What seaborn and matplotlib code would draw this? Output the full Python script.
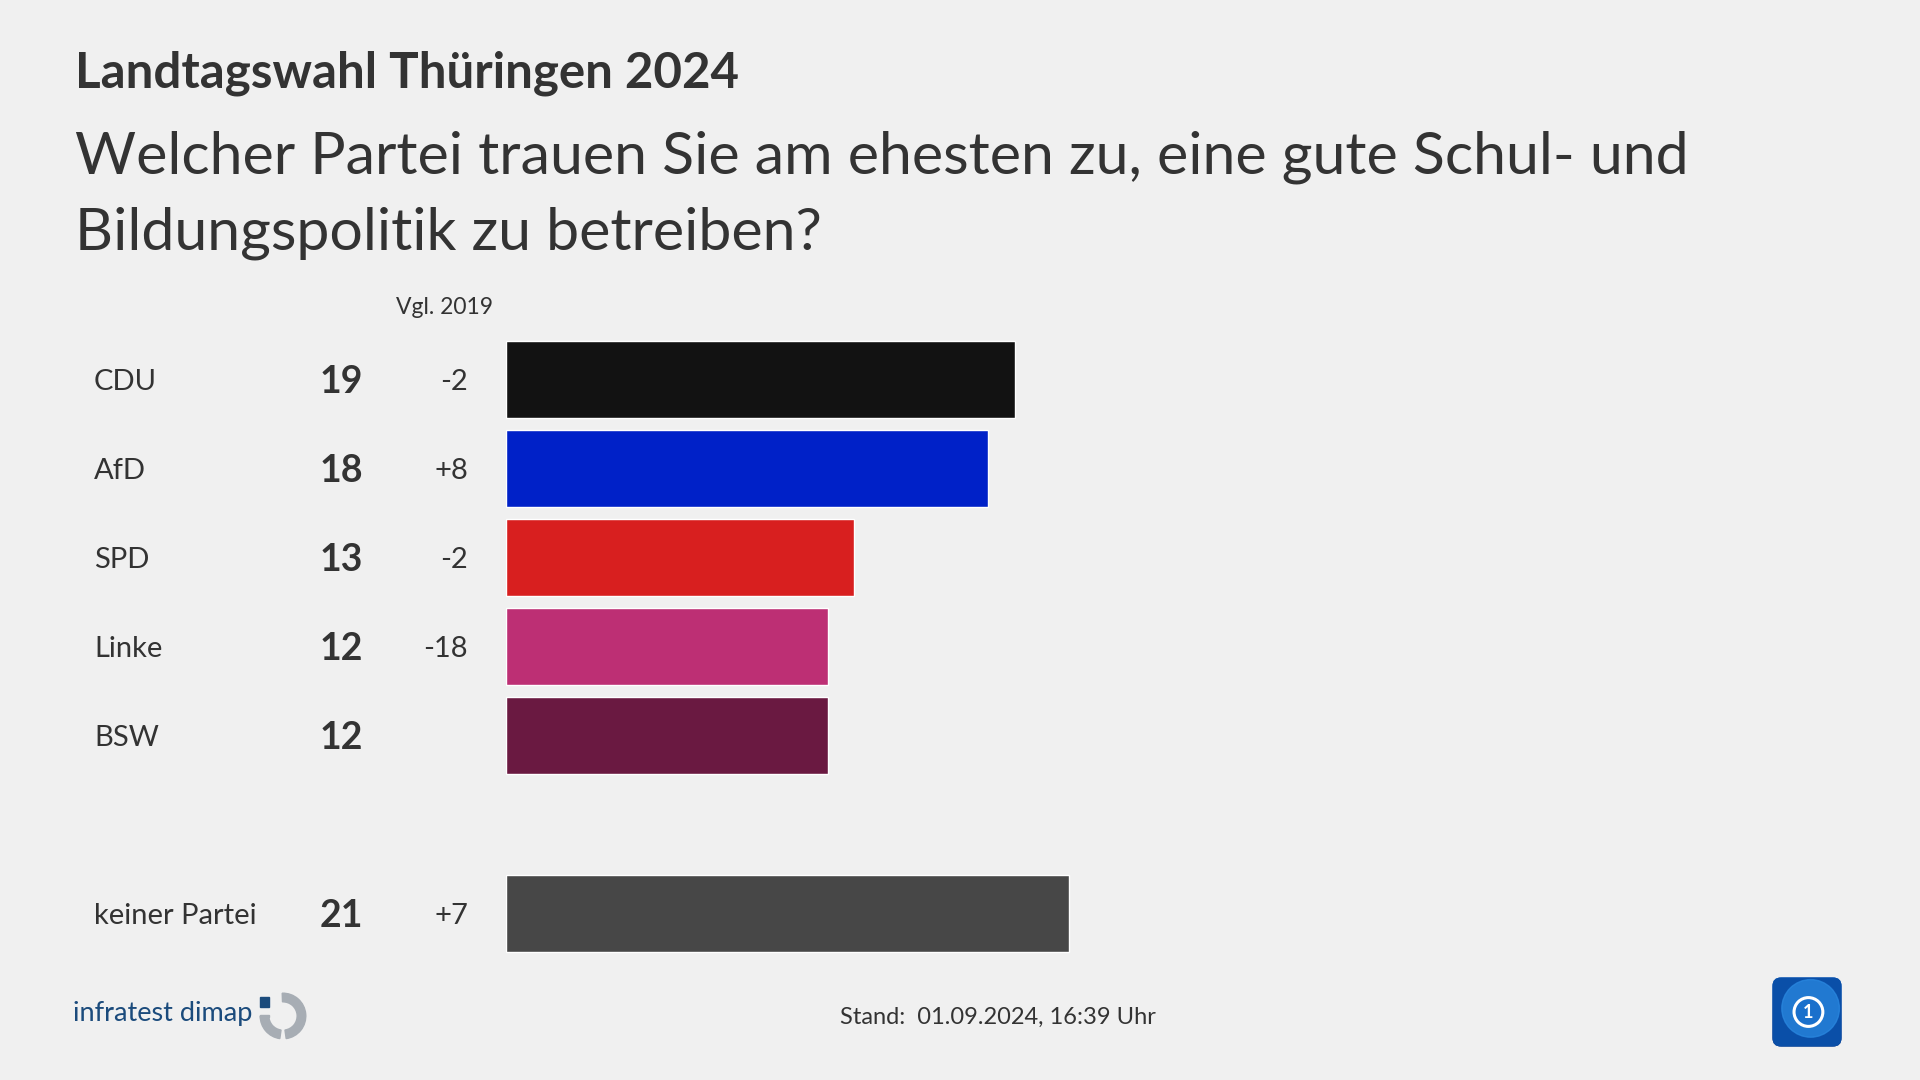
"""
Landtagswahl Thüringen 2024 - Kompetenz Schul- und Bildungspolitik.

Horizontal bar chart in infratest dimap / tagesschau style.
Output: out.png (1920x1080)
"""

import matplotlib.pyplot as plt
import matplotlib.transforms as mtransforms
from matplotlib.patches import FancyBboxPatch, Circle, Wedge, Rectangle
import numpy as np
import pandas as pd
import seaborn as sns

# --- data -------------------------------------------------------------------
parties = ["CDU", "AfD", "SPD", "Linke", "BSW", "keiner Partei"]
shares = [19, 18, 13, 12, 12, 21]
changes = ["-2", "+8", "-2", "-18", "", "+7"]
bar_colors = ["#121212", "#0021c8", "#d81f1f", "#bd2f74", "#6a1941", "#474747"]
# empty slot between the parties and "keiner Partei"
row_order = ["CDU", "AfD", "SPD", "Linke", "BSW", " ", "keiner Partei"]

title = "Landtagswahl Thüringen 2024"
question = ["Welcher Partei trauen Sie am ehesten zu, eine gute Schul- und",
            "Bildungspolitik zu betreiben?"]
compare_header = "Vgl. 2019"
footer = "Stand:  01.09.2024, 16:39 Uhr"

BG = "#f0f0f0"
TXT = "#333333"
W, H = 1920, 1080


def fx(px):
    return px / W


def fy(py):
    return 1 - py / H


def main() -> None:
    sns.set_theme(style="white")
    plt.rcParams["font.family"] = ["Lato", "DejaVu Sans"]

    df = pd.DataFrame({"party": parties, "share": shares})
    palette = dict(zip(parties, bar_colors))

    fig = plt.figure(figsize=(W / 100, H / 100), dpi=100, facecolor=BG)
    ax = fig.add_axes([fx(506), fy(958), fx(1340), (958 - 335) / H])
    ax.set_facecolor(BG)
    sns.barplot(data=df, x="share", y="party", hue="party", order=row_order,
                palette=palette, width=0.87, legend=False, saturation=1,
                ax=ax)
    ax.set_xlim(0, 50)
    ax.set_ylim(len(row_order) - 0.5, -0.5)
    ax.set_axis_off()

    trans = mtransforms.blended_transform_factory(fig.transFigure, ax.transData)
    for p, s, c in zip(parties, shares, changes):
        y = row_order.index(p) + 0.03
        ax.text(fx(94), y, p, transform=trans, ha="left", va="center",
                fontsize=21, color=TXT)
        ax.text(fx(363), y, str(s), transform=trans, ha="right", va="center",
                fontsize=27, fontweight="bold", color=TXT)
        if c:
            ax.text(fx(468), y, c, transform=trans, ha="right", va="center",
                    fontsize=21, color=TXT)

    fig.text(fx(493), fy(307), compare_header, ha="right", va="center",
             fontsize=16.5, color=TXT)

    # titles
    fig.text(fx(75), fy(87), title, ha="left", va="baseline",
             fontsize=35.5, fontweight="bold", color=TXT)
    for i, line in enumerate(question):
        fig.text(fx(75), fy(173 + 77 * i), line, ha="left", va="baseline",
                 fontsize=42.5, color=TXT)

    # footer
    fig.text(fx(998), fy(1017), footer, ha="center", va="center",
             fontsize=17, color=TXT)

    # infratest dimap logo
    fig.text(fx(73), fy(1014), "infratest dimap", ha="left", va="center",
             fontsize=19.5, color="#1b4b7c")
    lax = fig.add_axes([fx(259), fy(1040), fx(48), 48 / H])
    lax.set_xlim(-1, 1)
    lax.set_ylim(-1, 1)
    lax.set_aspect("equal")
    lax.set_axis_off()
    gray = "#a7adb4"
    lax.add_patch(Wedge((0, 0), 0.95, -82, 92, width=0.36, color=gray))
    lax.add_patch(Wedge((0, 0), 0.95, 180, 262, width=0.36, color=gray))
    lax.add_patch(Rectangle((-0.95, -0.05), 0.36, 0.1, color=gray))
    lax.add_patch(Rectangle((-0.95, 0.38), 0.36, 0.42, color="#1b4b7c"))

    # tagesschau logo
    tax = fig.add_axes([fx(1771), fy(1048), fx(72), 72 / H])
    tax.set_xlim(0, 1)
    tax.set_ylim(0, 1)
    tax.set_aspect("equal")
    tax.set_axis_off()
    box = FancyBboxPatch((0.02, 0.02), 0.96, 0.96,
                         boxstyle="round,pad=0,rounding_size=0.12",
                         facecolor="#0a4fa8", edgecolor="none")
    tax.add_patch(box)
    grad = np.linspace(0, 1, 100).reshape(-1, 1)
    im = tax.imshow(grad, extent=(0.02, 0.98, 0.02, 0.98), origin="lower",
                    cmap=sns.blend_palette(["#062a78", "#1466c8"],
                                           as_cmap=True), aspect="auto")
    im.set_clip_path(box)
    globe = Circle((0.55, 0.55), 0.4, color="#2a88e0", alpha=0.75)
    tax.add_patch(globe)
    tax.add_patch(Circle((0.52, 0.5), 0.2, facecolor="#1a70cc",
                         edgecolor="white", linewidth=2.2))
    tax.text(0.52, 0.49, "1", ha="center", va="center", color="white",
             fontsize=13, fontweight="bold")

    fig.savefig("out.png", dpi=100, facecolor=BG)
    plt.close(fig)


if __name__ == "__main__":
    main()
